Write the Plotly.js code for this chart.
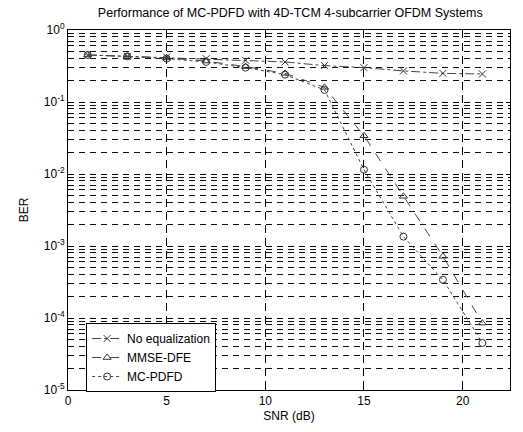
<!DOCTYPE html>
<html><head><meta charset="utf-8">
<script src="https://cdn.plot.ly/plotly-3.0.1.min.js"></script>
<style>html,body{margin:0;padding:0;background:#fff}#plot{width:523px;height:432px}</style>
</head><body><div id="plot"></div>
<script>
const snr = [1,3,5,7,9,11,13,15,17,19,21];
const berNoEq = [0.45,0.43,0.42,0.40,0.38,0.36,0.32,0.30,0.27,0.25,0.245];
const berMmse = [0.45,0.43,0.41,0.37,0.31,0.25,0.16,0.034,0.0049,0.00072,0.000085];
const berMcpdfd = [0.45,0.43,0.40,0.36,0.30,0.24,0.147,0.0115,0.00135,0.00034,0.000045];
const seriesNames = ["No equalization","MMSE-DFE","MC-PDFD"];
const yTickVals = [1,0.1,0.01,0.001,0.0001,0.00001];
const yTickText = ["10<sup>0</sup>","10<sup>-1</sup>","10<sup>-2</sup>","10<sup>-3</sup>","10<sup>-4</sup>","10<sup>-5</sup>"];
const xTickVals = [0,5,10,15,20];

const minorVals = [];
for (let k=-5;k<0;k++){ for (let m=2;m<=9;m++){ minorVals.push(m*Math.pow(10,k)); } }

const font = {family:'"Liberation Sans", Arial, sans-serif', color:'#000'};
const traces = [
  {x:snr, y:berNoEq, name:seriesNames[0], mode:'lines+markers',
   line:{color:'#444', width:1, dash:'dashdot'},
   marker:{symbol:'x-thin-open', size:7, color:'#333', line:{width:1, color:'#333'}}},
  {x:snr, y:berMmse, name:seriesNames[1], mode:'lines+markers',
   line:{color:'#444', width:1, dash:'dash'},
   marker:{symbol:'triangle-up-open', size:7, color:'#333', line:{width:1, color:'#333'}}},
  {x:snr, y:berMcpdfd, name:seriesNames[2], mode:'lines+markers',
   line:{color:'#444', width:1, dash:'dot'},
   marker:{symbol:'circle-open', size:7, color:'#333', line:{width:1, color:'#333'}}}
];
const layout = {
  width:523, height:432,
  margin:{l:68, r:13, t:30, b:42},
  paper_bgcolor:'#fff', plot_bgcolor:'#fff',
  font:Object.assign({size:12}, font),
  title:{text:'Performance of MC-PDFD with 4D-TCM 4-subcarrier OFDM Systems', x:0.555, xanchor:'center', y:0.97, yanchor:'middle', font:Object.assign({size:12.5}, font)},
  showlegend:true,
  legend:{x:0.041, y:0.186, xanchor:'left', yanchor:'top', bgcolor:'#fff', bordercolor:'#000', borderwidth:1,
          font:Object.assign({size:12}, font), tracegroupgap:0, itemwidth:30},
  xaxis:{range:[0,22.4], tickmode:'array', tickvals:xTickVals, ticks:'inside', ticklen:4, tickcolor:'#000',
         showline:true, linecolor:'#000', linewidth:1, mirror:'ticks', zeroline:false,
         showgrid:true, gridcolor:'#000', gridwidth:1, griddash:'8px,5px',
         tickfont:Object.assign({size:12}, font),
         title:{text:'SNR (dB)', standoff:4, font:Object.assign({size:12}, font)}},
  yaxis:{type:'log', range:[-5,0], tickmode:'array', tickvals:yTickVals, ticktext:yTickText,
         ticks:'inside', ticklen:4, tickcolor:'#000',
         showline:true, linecolor:'#000', linewidth:1, mirror:'ticks', zeroline:false,
         showgrid:true, gridcolor:'#000', gridwidth:1, griddash:'6px,5px',
         tickfont:Object.assign({size:12}, font),
         minor:{tickmode:'array', tickvals:minorVals, ticks:'inside', ticklen:2, tickcolor:'#000',
                showgrid:true, gridcolor:'#111', gridwidth:1, griddash:'6px,5px'},
         title:{text:'BER', standoff:12, font:Object.assign({size:12}, font)}}
};
Plotly.newPlot('plot', traces, layout, {staticPlot:true, displayModeBar:false});
</script></body></html>
